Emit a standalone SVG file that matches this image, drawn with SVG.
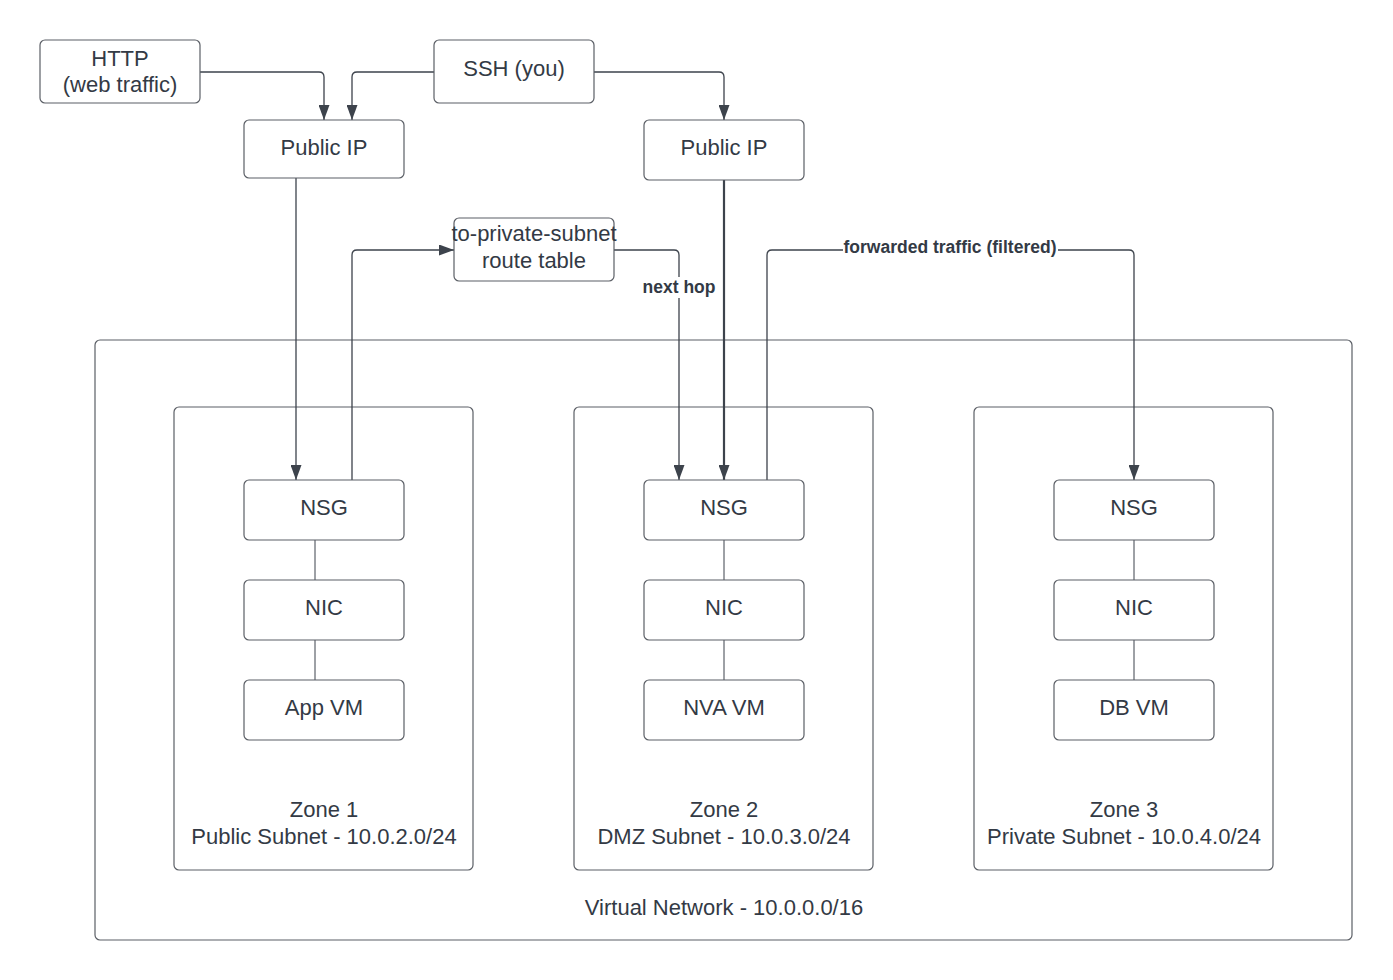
<svg xmlns="http://www.w3.org/2000/svg" width="1393" height="980" viewBox="0 0 1393 980">
<style>
.box{fill:#fff;stroke:#5b5f66;stroke-width:1.2}
.t{font-family:"Liberation Sans",Arial,sans-serif;font-size:22px;fill:#333a45;text-anchor:middle}
.lbl{font-family:"Liberation Sans",Arial,sans-serif;font-size:17.5px;font-weight:bold;fill:#333a45;text-anchor:middle}
.c{fill:none;stroke:#3d434c;stroke-width:1.3}
.thin{fill:none;stroke:#3d434c;stroke-width:1}
</style>
<defs>
<marker id="ah" viewBox="0 0 15 11" refX="15" refY="5.5" markerWidth="15" markerHeight="11" markerUnits="userSpaceOnUse" orient="auto">
<path d="M0,0 L15,5.5 L0,11 Z" fill="#3d434c"/>
</marker>
</defs>
<rect width="1393" height="980" fill="#fff"/>
<g id="vnet"><rect class="box" x="95" y="340" width="1257" height="600" rx="5"/><text class="t" x="724" y="915">Virtual Network - 10.0.0.0/16</text></g>
<g id="zone1"><rect class="box" x="174" y="407" width="299" height="463" rx="5"/><text class="t" x="324" y="817">Zone 1</text><text class="t" x="324" y="844">Public Subnet - 10.0.2.0/24</text></g>
<g id="zone2"><rect class="box" x="574" y="407" width="299" height="463" rx="5"/><text class="t" x="724" y="817">Zone 2</text><text class="t" x="724" y="844">DMZ Subnet - 10.0.3.0/24</text></g>
<g id="zone3"><rect class="box" x="974" y="407" width="299" height="463" rx="5"/><text class="t" x="1124" y="817">Zone 3</text><text class="t" x="1124" y="844">Private Subnet - 10.0.4.0/24</text></g>
<g id="connectors">
<path class="c" d="M200,72 H319 Q324,72 324,77 V120" marker-end="url(#ah)"/>
<path class="c" d="M434,72 H357 Q352,72 352,77 V120" marker-end="url(#ah)"/>
<path class="c" d="M594,72 H719 Q724,72 724,77 V120" marker-end="url(#ah)"/>
<path class="c" d="M296,178 V480" marker-end="url(#ah)"/>
<path class="c" d="M352,480 V255 Q352,250 357,250 H454" marker-end="url(#ah)"/>
<path class="c" d="M614,250 H674 Q679,250 679,255 V480" marker-end="url(#ah)"/>
<path class="c" style="stroke-width:2.2" d="M724,180 V480" marker-end="url(#ah)"/>
<path class="c" d="M767,480 V255 Q767,250 772,250 H1129 Q1134,250 1134,255 V480" marker-end="url(#ah)"/>
<path class="thin" d="M315,540 V580 M315,640 V680 M724,540 V580 M724,640 V680 M1134,540 V580 M1134,640 V680"/>
<rect x="641" y="277" width="76" height="21" fill="#fff"/>
<text class="lbl" x="679" y="293">next hop</text>
<rect x="843" y="238" width="215" height="20" fill="#fff"/>
<text class="lbl" x="950" y="253">forwarded traffic (filtered)</text>
</g>
<g id="http"><rect class="box" x="40" y="40" width="160" height="63" rx="5"/><text class="t" x="120" y="66">HTTP</text><text class="t" x="120" y="92">(web traffic)</text></g>
<g id="ssh"><rect class="box" x="434" y="40" width="160" height="63" rx="5"/><text class="t" x="514" y="76">SSH (you)</text></g>
<g id="pip1"><rect class="box" x="244" y="120" width="160" height="58" rx="5"/><text class="t" x="324" y="155">Public IP</text></g>
<g id="pip2"><rect class="box" x="644" y="120" width="160" height="60" rx="5"/><text class="t" x="724" y="155">Public IP</text></g>
<g id="rt"><rect class="box" x="454" y="218" width="160" height="63" rx="5"/><text class="t" x="534" y="241">to-private-subnet</text><text class="t" x="534" y="268">route table</text></g>
<g id="nsg1"><rect class="box" x="244" y="480" width="160" height="60" rx="5"/><text class="t" x="324" y="515">NSG</text></g>
<g id="nic1"><rect class="box" x="244" y="580" width="160" height="60" rx="5"/><text class="t" x="324" y="615">NIC</text></g>
<g id="vm1"><rect class="box" x="244" y="680" width="160" height="60" rx="5"/><text class="t" x="324" y="715">App VM</text></g>
<g id="nsg2"><rect class="box" x="644" y="480" width="160" height="60" rx="5"/><text class="t" x="724" y="515">NSG</text></g>
<g id="nic2"><rect class="box" x="644" y="580" width="160" height="60" rx="5"/><text class="t" x="724" y="615">NIC</text></g>
<g id="vm2"><rect class="box" x="644" y="680" width="160" height="60" rx="5"/><text class="t" x="724" y="715">NVA VM</text></g>
<g id="nsg3"><rect class="box" x="1054" y="480" width="160" height="60" rx="5"/><text class="t" x="1134" y="515">NSG</text></g>
<g id="nic3"><rect class="box" x="1054" y="580" width="160" height="60" rx="5"/><text class="t" x="1134" y="615">NIC</text></g>
<g id="vm3"><rect class="box" x="1054" y="680" width="160" height="60" rx="5"/><text class="t" x="1134" y="715">DB VM</text></g>
</svg>
